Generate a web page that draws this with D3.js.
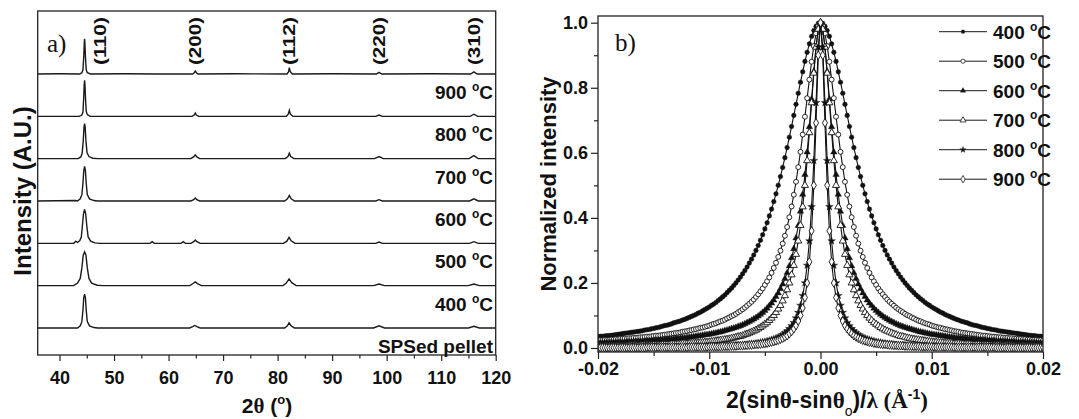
<!DOCTYPE html>
<html>
<head>
<meta charset="utf-8">
<script src="https://cdn.jsdelivr.net/npm/d3@7"></script>
<style>
body { margin: 0; background: #fff; }
svg text { font-family: "Liberation Sans", Arial, sans-serif; font-weight: bold; fill: #111; }
.axis path { display: none; }
.axis line { stroke: #222; stroke-width: 1.2; }
.serif { font-family: "Liberation Serif", "Times New Roman", serif; }
</style>
</head>
<body>
<div id="chart"></div>
<script>
// ---- panel a: XRD patterns ----
var xrdTicks = [40, 50, 60, 70, 80, 90, 100, 110, 120];
var xrdMinor = [45, 55, 65, 75, 85, 95, 105, 115];
var xrdNames = ["900 °C", "800 °C", "700 °C", "600 °C", "500 °C", "400 °C", "SPSed pellet"];
var xrdOffsets = [6, 5, 4, 3, 2, 1, 0];
var hklLabels = ["(110)", "(200)", "(112)", "(220)", "(310)"];
var hklPos = [47.4, 64.9, 82.2, 98.6, 116.0];

var xrd900 = [[36,0],[40,0.005],[43.7,0],[44.1,0.03],[44.3,0.1],[44.45,0.42],[44.55,0.75],[44.6,0.83],[44.65,0.75],[44.75,0.42],[44.9,0.1],[45.1,0.03],[45.7,0],[52,0.005],[58,0],[64.4,0],[64.7,0.03],[64.9,0.07],[65.1,0.03],[65.4,0],[72,0.005],[81.7,0],[82.0,0.05],[82.15,0.15],[82.3,0.06],[82.7,0],[90,0.005],[98.1,0],[98.6,0.04],[99.1,0],[108,0.005],[115.4,0],[116.0,0.05],[116.6,0],[120,0]];
var xrd800 = [[36,0],[43.6,0],[44.1,0.03],[44.3,0.1],[44.43,0.42],[44.53,0.75],[44.6,0.85],[44.67,0.75],[44.77,0.42],[44.9,0.12],[45.1,0.04],[45.6,0],[64.3,0],[64.7,0.03],[64.9,0.08],[65.1,0.03],[65.5,0],[81.6,0],[81.95,0.05],[82.15,0.14],[82.35,0.05],[82.8,0],[98.0,0],[98.6,0.03],[99.2,0],[115.3,0],[116.0,0.05],[116.7,0],[120,0]];
var xrd700 = [[36,0],[43.4,0],[43.9,0.04],[44.15,0.12],[44.35,0.42],[44.5,0.75],[44.6,0.83],[44.7,0.75],[44.85,0.42],[45.05,0.14],[45.4,0.05],[46.1,0.01],[47,0],[64.1,0],[64.6,0.04],[64.9,0.09],[65.2,0.04],[65.7,0],[81.4,0],[81.9,0.05],[82.15,0.13],[82.4,0.05],[83.0,0],[97.8,0],[98.6,0.05],[99.4,0],[115.1,0],[116.0,0.07],[116.8,0],[120,0]];
var xrd600 = [[36,0],[42.9,0.01],[43.3,0],[43.8,0.05],[44.1,0.15],[44.3,0.42],[44.45,0.72],[44.6,0.82],[44.75,0.72],[44.9,0.42],[45.1,0.15],[45.5,0.05],[46.3,0.01],[47,0],[64.1,0],[64.6,0.03],[64.9,0.07],[65.2,0.03],[65.7,0],[81.3,0],[81.8,0.05],[82.15,0.13],[82.5,0.05],[83.1,0],[98.0,0],[98.6,0.03],[99.2,0],[115.2,0],[116.0,0.05],[116.8,0],[120,0]];
var xrd500 = [[36,0],[42.6,0],[43.0,0.05],[43.3,0.02],[43.7,0.06],[44.0,0.15],[44.2,0.42],[44.4,0.7],[44.6,0.8],[44.8,0.7],[45.0,0.42],[45.25,0.15],[45.7,0.05],[46.5,0.01],[47.5,0],[56.6,0],[57.0,0.04],[57.4,0],[62.3,0],[62.7,0.04],[63.1,0],[64.1,0],[64.6,0.04],[64.9,0.08],[65.2,0.04],[65.8,0],[81.1,0],[81.7,0.05],[82.1,0.14],[82.5,0.06],[83.2,0],[98.0,0],[98.6,0.03],[99.2,0],[115.2,0],[116.0,0.04],[116.8,0],[120,0]];
var xrd400 = [[36,0],[42.6,0],[43.3,0.06],[43.8,0.17],[44.1,0.42],[44.35,0.72],[44.6,0.8],[44.85,0.72],[45.1,0.42],[45.4,0.17],[45.9,0.06],[46.9,0.01],[48,0],[63.9,0],[64.5,0.05],[64.9,0.09],[65.3,0.05],[66.0,0],[81.0,0],[81.6,0.06],[82.1,0.16],[82.6,0.07],[83.4,0],[97.6,0],[98.6,0.04],[99.6,0],[115.0,0],[116.0,0.04],[117.0,0],[120,0]];
var xrdSPS = [[36,0],[43.3,0],[43.8,0.05],[44.1,0.15],[44.3,0.42],[44.45,0.72],[44.6,0.8],[44.75,0.72],[44.9,0.42],[45.1,0.15],[45.5,0.05],[46.3,0.01],[47,0],[63.9,0],[64.4,0.03],[64.8,0.06],[65.2,0.03],[65.8,0],[81.3,0],[81.8,0.05],[82.1,0.12],[82.5,0.05],[83.1,0],[97.6,0],[98.6,0.05],[99.6,0],[115.0,0],[116.0,0.04],[117.0,0],[120,0]];
var xrdTraces = [xrd900, xrd800, xrd700, xrd600, xrd500, xrd400, xrdSPS];

// ---- panel b: normalized (110) profiles ----
var qTicks = [-0.02, -0.01, 0, 0.01, 0.02];
var qMinor = [-0.015, -0.005, 0.005, 0.015];
var nTicks = [0, 0.2, 0.4, 0.6, 0.8, 1.0];
var nMinor = [0.1, 0.3, 0.5, 0.7, 0.9];
var profNames = ["400 °C", "500 °C", "600 °C", "700 °C", "800 °C", "900 °C"];

var qGrid = [
  -0.02,-0.0198,-0.0196,-0.0194,-0.0192,-0.019,-0.0188,-0.0186,-0.0184,-0.0182,
  -0.018,-0.0178,-0.0176,-0.0174,-0.0172,-0.017,-0.0168,-0.0166,-0.0164,-0.0162,
  -0.016,-0.0158,-0.0156,-0.0154,-0.0152,-0.015,-0.0148,-0.0146,-0.0144,-0.0142,
  -0.014,-0.0138,-0.0136,-0.0134,-0.0132,-0.013,-0.0128,-0.0126,-0.0124,-0.0122,
  -0.012,-0.0118,-0.0116,-0.0114,-0.0112,-0.011,-0.0108,-0.0106,-0.0104,-0.0102,
  -0.01,-0.0098,-0.0096,-0.0094,-0.0092,-0.009,-0.0088,-0.0086,-0.0084,-0.0082,
  -0.008,-0.0078,-0.0076,-0.0074,-0.0072,-0.007,-0.0068,-0.0066,-0.0064,-0.0062,
  -0.006,-0.0058,-0.0056,-0.0054,-0.0052,-0.005,-0.0048,-0.0046,-0.0044,-0.0042,
  -0.004,-0.0038,-0.0036,-0.0034,-0.0032,-0.003,-0.0028,-0.0026,-0.0024,-0.0022,
  -0.002,-0.0018,-0.0016,-0.0014,-0.0012,-0.001,-0.0008,-0.0006,-0.0004,-0.0002,
  0,
  0.0002,0.0004,0.0006,0.0008,0.001,0.0012,0.0014,0.0016,0.0018,0.002,
  0.0022,0.0024,0.0026,0.0028,0.003,0.0032,0.0034,0.0036,0.0038,0.004,
  0.0042,0.0044,0.0046,0.0048,0.005,0.0052,0.0054,0.0056,0.0058,0.006,
  0.0062,0.0064,0.0066,0.0068,0.007,0.0072,0.0074,0.0076,0.0078,0.008,
  0.0082,0.0084,0.0086,0.0088,0.009,0.0092,0.0094,0.0096,0.0098,0.01,
  0.0102,0.0104,0.0106,0.0108,0.011,0.0112,0.0114,0.0116,0.0118,0.012,
  0.0122,0.0124,0.0126,0.0128,0.013,0.0132,0.0134,0.0136,0.0138,0.014,
  0.0142,0.0144,0.0146,0.0148,0.015,0.0152,0.0154,0.0156,0.0158,0.016,
  0.0162,0.0164,0.0166,0.0168,0.017,0.0172,0.0174,0.0176,0.0178,0.018,
  0.0182,0.0184,0.0186,0.0188,0.019,0.0192,0.0194,0.0196,0.0198,0.02];

var p400 = [
  .035,.036,.036,.037,.038,.038,.039,.040,.041,.042,
  .043,.044,.045,.046,.047,.048,.049,.050,.051,.052,
  .053,.055,.056,.057,.059,.060,.062,.063,.065,.067,
  .069,.070,.072,.074,.077,.079,.081,.083,.086,.088,
  .091,.094,.097,.100,.103,.107,.110,.114,.118,.122,
  .126,.131,.135,.140,.146,.151,.157,.163,.170,.177,
  .184,.192,.200,.209,.218,.228,.238,.249,.261,.273,
  .286,.300,.315,.331,.348,.366,.385,.406,.427,.450,
  .474,.5,.527,.555,.585,.616,.648,.681,.715,.749,
  .783,.817,.849,.881,.909,.935,.958,.976,.989,.997,
  1,
  .997,.989,.976,.958,.935,.909,.881,.849,.817,.783,
  .749,.715,.681,.648,.616,.585,.555,.527,.5,.474,
  .450,.427,.406,.385,.366,.348,.331,.315,.300,.286,
  .273,.261,.249,.238,.228,.218,.209,.200,.192,.184,
  .177,.170,.163,.157,.151,.146,.140,.135,.131,.126,
  .122,.118,.114,.110,.107,.103,.100,.097,.094,.091,
  .088,.086,.083,.081,.079,.077,.074,.072,.070,.069,
  .067,.065,.063,.062,.060,.059,.057,.056,.055,.053,
  .052,.051,.050,.049,.048,.047,.046,.045,.044,.043,
  .042,.041,.040,.039,.038,.038,.037,.036,.036,.035];
var p500 = [
  .023,.024,.024,.025,.025,.025,.026,.026,.027,.027,
  .028,.028,.029,.029,.030,.030,.031,.031,.032,.033,
  .033,.034,.035,.035,.036,.037,.038,.038,.039,.040,
  .041,.042,.043,.044,.045,.046,.047,.048,.050,.051,
  .052,.054,.055,.057,.058,.060,.062,.063,.065,.067,
  .069,.072,.074,.076,.079,.082,.084,.087,.091,.094,
  .098,.101,.105,.110,.114,.119,.124,.130,.136,.142,
  .149,.157,.165,.174,.183,.194,.205,.217,.231,.246,
  .262,.280,.299,.321,.345,.372,.402,.435,.471,.511,
  .556,.603,.656,.711,.768,.825,.880,.928,.967,.991,
  1,
  .991,.967,.928,.880,.825,.768,.711,.656,.603,.556,
  .511,.471,.435,.402,.372,.345,.321,.299,.280,.262,
  .246,.231,.217,.205,.194,.183,.174,.165,.157,.149,
  .142,.136,.130,.124,.119,.114,.110,.105,.101,.098,
  .094,.091,.087,.084,.082,.079,.076,.074,.072,.069,
  .067,.065,.063,.062,.060,.058,.057,.055,.054,.052,
  .051,.050,.048,.047,.046,.045,.044,.043,.042,.041,
  .040,.039,.038,.038,.037,.036,.035,.035,.034,.033,
  .033,.032,.031,.031,.030,.030,.029,.029,.028,.028,
  .027,.027,.026,.026,.025,.025,.025,.024,.024,.023];
var p600 = [
  .015,.015,.016,.016,.016,.016,.017,.017,.017,.017,
  .018,.018,.018,.019,.019,.019,.020,.020,.020,.021,
  .021,.021,.022,.022,.023,.023,.024,.024,.025,.025,
  .026,.026,.027,.027,.028,.029,.029,.030,.031,.031,
  .032,.033,.034,.035,.036,.037,.038,.039,.040,.041,
  .042,.043,.045,.046,.048,.049,.051,.053,.055,.057,
  .059,.061,.063,.066,.068,.071,.074,.078,.081,.085,
  .089,.093,.098,.103,.109,.115,.122,.130,.138,.147,
  .158,.169,.182,.196,.213,.231,.252,.277,.305,.338,
  .376,.420,.472,.533,.602,.680,.765,.850,.926,.980,
  1,
  .980,.926,.850,.765,.680,.602,.533,.472,.420,.376,
  .338,.305,.277,.252,.231,.213,.196,.182,.169,.158,
  .147,.138,.130,.122,.115,.109,.103,.098,.093,.089,
  .085,.081,.078,.074,.071,.068,.066,.063,.061,.059,
  .057,.055,.053,.051,.049,.048,.046,.045,.043,.042,
  .041,.040,.039,.038,.037,.036,.035,.034,.033,.032,
  .031,.031,.030,.029,.029,.028,.027,.027,.026,.026,
  .025,.025,.024,.024,.023,.023,.022,.022,.021,.021,
  .021,.020,.020,.020,.019,.019,.019,.018,.018,.018,
  .017,.017,.017,.017,.016,.016,.016,.016,.015,.015];
var p700 = [
  .005,.005,.005,.005,.005,.005,.006,.006,.006,.006,
  .006,.006,.006,.006,.007,.007,.007,.007,.007,.007,
  .008,.008,.008,.008,.008,.009,.009,.009,.009,.010,
  .010,.010,.010,.011,.011,.011,.012,.012,.013,.013,
  .013,.014,.014,.015,.015,.016,.017,.017,.018,.018,
  .019,.020,.021,.022,.023,.024,.025,.026,.027,.028,
  .030,.031,.033,.035,.036,.038,.041,.043,.046,.049,
  .052,.055,.059,.063,.068,.073,.078,.085,.092,.100,
  .109,.120,.131,.145,.161,.179,.200,.225,.254,.288,
  .329,.377,.434,.5,.576,.662,.754,.845,.925,.980,
  1,
  .980,.925,.845,.754,.662,.576,.5,.434,.377,.329,
  .288,.254,.225,.200,.179,.161,.145,.131,.120,.109,
  .100,.092,.085,.078,.073,.068,.063,.059,.055,.052,
  .049,.046,.043,.041,.038,.036,.035,.033,.031,.030,
  .028,.027,.026,.025,.024,.023,.022,.021,.020,.019,
  .018,.018,.017,.017,.016,.015,.015,.014,.014,.013,
  .013,.013,.012,.012,.011,.011,.011,.010,.010,.010,
  .010,.009,.009,.009,.009,.008,.008,.008,.008,.008,
  .007,.007,.007,.007,.007,.007,.006,.006,.006,.006,
  .006,.006,.006,.006,.005,.005,.005,.005,.005,.005];
var p800 = [
  .001,.001,.001,.001,.001,.001,.001,.001,.002,.002,
  .002,.002,.002,.002,.002,.002,.002,.002,.002,.002,
  .002,.002,.002,.002,.002,.002,.002,.002,.002,.002,
  .002,.003,.003,.003,.003,.003,.003,.003,.003,.003,
  .003,.003,.004,.004,.004,.004,.004,.004,.005,.005,
  .005,.005,.005,.006,.006,.006,.006,.007,.007,.007,
  .008,.008,.008,.009,.009,.010,.010,.011,.012,.013,
  .013,.014,.015,.017,.018,.019,.021,.023,.025,.027,
  .030,.033,.036,.041,.046,.052,.059,.068,.078,.092,
  .109,.131,.161,.200,.254,.329,.434,.576,.754,.925,
  1,
  .925,.754,.576,.434,.329,.254,.200,.161,.131,.109,
  .092,.078,.068,.059,.052,.046,.041,.036,.033,.030,
  .027,.025,.023,.021,.019,.018,.017,.015,.014,.013,
  .013,.012,.011,.010,.010,.009,.009,.008,.008,.008,
  .007,.007,.007,.006,.006,.006,.006,.005,.005,.005,
  .005,.005,.004,.004,.004,.004,.004,.004,.003,.003,
  .003,.003,.003,.003,.003,.003,.003,.003,.003,.002,
  .002,.002,.002,.002,.002,.002,.002,.002,.002,.002,
  .002,.002,.002,.002,.002,.002,.002,.002,.002,.002,
  .002,.002,.001,.001,.001,.001,.001,.001,.001,.001];
var p900 = [
  .001,.001,.001,.001,.001,.001,.001,.001,.001,.001,
  .001,.001,.001,.001,.001,.001,.001,.001,.001,.001,
  .001,.001,.002,.002,.002,.002,.002,.002,.002,.002,
  .002,.002,.002,.002,.002,.002,.002,.002,.002,.002,
  .002,.003,.003,.003,.003,.003,.003,.003,.003,.003,
  .004,.004,.004,.004,.004,.004,.005,.005,.005,.005,
  .006,.006,.006,.007,.007,.007,.008,.008,.009,.009,
  .010,.011,.011,.012,.013,.014,.015,.017,.018,.020,
  .022,.024,.027,.030,.034,.038,.044,.051,.059,.069,
  .083,.100,.123,.155,.200,.265,.360,.5,.692,.900,
  1,
  .900,.692,.5,.360,.265,.200,.155,.123,.100,.083,
  .069,.059,.051,.044,.038,.034,.030,.027,.024,.022,
  .020,.018,.017,.015,.014,.013,.012,.011,.011,.010,
  .009,.009,.008,.008,.007,.007,.007,.006,.006,.006,
  .005,.005,.005,.005,.004,.004,.004,.004,.004,.004,
  .003,.003,.003,.003,.003,.003,.003,.003,.003,.002,
  .002,.002,.002,.002,.002,.002,.002,.002,.002,.002,
  .002,.002,.002,.002,.002,.002,.002,.002,.001,.001,
  .001,.001,.001,.001,.001,.001,.001,.001,.001,.001,
  .001,.001,.001,.001,.001,.001,.001,.001,.001,.001];
var profiles = [p400, p500, p600, p700, p800, p900];

// marker style per series (filled / open)
var symTypes = [d3.symbolCircle, d3.symbolCircle, d3.symbolTriangle, d3.symbolTriangle, d3.symbolStar, d3.symbolDiamond];
var symSizes = [17, 19, 18, 22, 18, 22];
var legSizes = [11, 14, 13, 16, 13, 16];
var symFill = ["#111", "#fff", "#111", "#fff", "#111", "#fff"];

var w = 1079, h = 419;
var svg = d3.select("#chart").append("svg").attr("width", w).attr("height", h);

// superscript "o" in "°C" like the original
function degText(sel, str, small, rise) {
    var parts = str.split("°");
    sel.append("tspan").text(parts[0]);
    if (parts.length > 1) {
        sel.append("tspan").attr("font-size", small).attr("dy", -rise).text("o");
        sel.append("tspan").attr("dy", rise).text(parts[1]);
    }
}
function hyphen(fmt) {
    return function(d) { return fmt(d).replace("\u2212", "-"); };
}

// ================= panel a =================
var xA = d3.scaleLinear().domain([36, 120]).range([37.7, 495.7]);
var yA = d3.scaleLinear().domain([-0.638, 7.488]).range([355, 11]);

var lineA = d3.line()
    .x(function(d) { return xA(d[0]); })
    .y(function(d) { return d[1]; });

xrdTraces.forEach(function(tr, i) {
    var off = xrdOffsets[i];
    svg.append("path")
        .datum(tr.map(function(d) { return [d[0], yA(d[1] + off)]; }))
        .attr("fill", "none")
        .attr("stroke", "#1a1a1a")
        .attr("stroke-width", 1.4)
        .attr("d", lineA);
});

svg.append("rect")
    .attr("x", xA(36)).attr("y", yA(7.488))
    .attr("width", xA(120) - xA(36)).attr("height", yA(-0.638) - yA(7.488))
    .attr("fill", "none").attr("stroke", "#222").attr("stroke-width", 1.3);

svg.append("g").attr("class", "axis")
    .attr("transform", "translate(0," + yA(-0.638) + ")")
    .call(d3.axisBottom(xA).tickValues(xrdTicks).tickSize(6).tickPadding(10))
    .selectAll("text").attr("font-size", 18);
svg.append("g").attr("class", "axis")
    .attr("transform", "translate(0," + yA(-0.638) + ")")
    .call(d3.axisBottom(xA).tickValues(xrdMinor).tickSize(3.5).tickFormat(""));

// temperature labels under each trace
xrdNames.forEach(function(name, i) {
    var t = svg.append("text")
        .attr("x", 493)
        .attr("y", yA(xrdOffsets[i]) + 25)
        .attr("text-anchor", "end")
        .attr("font-size", 19);
    degText(t, name, 12, 8);
});

// hkl labels
hklLabels.forEach(function(lab, i) {
    svg.append("text")
        .attr("transform", "translate(" + xA(hklPos[i]) + "," + (yA(6) - 9) + ") rotate(-90)")
        .attr("dy", "0.36em")
        .attr("font-size", 16)
        .attr("textLength", 48)
        .attr("lengthAdjust", "spacingAndGlyphs")
        .text(lab);
});

svg.append("text").attr("class", "serif")
    .attr("x", 47).attr("y", 52).attr("font-size", 25).style("font-weight", "normal")
    .text("a)");

svg.append("text")
    .attr("transform", "translate(31,191) rotate(-90)")
    .attr("text-anchor", "middle").attr("font-size", 24)
    .text("Intensity (A.U.)");

var tA = svg.append("text").attr("x", 267).attr("y", 413)
    .attr("text-anchor", "middle").attr("font-size", 21);
tA.append("tspan").text("2");
tA.append("tspan").attr("class", "serif").text("θ");
tA.append("tspan").text(" (");
tA.append("tspan").attr("font-size", 13).attr("dy", -9).text("o");
tA.append("tspan").attr("dy", 9).text(")");

// ================= panel b =================
var xB = d3.scaleLinear().domain([-0.02, 0.02]).range([598, 1043]);
var yB = d3.scaleLinear().domain([-0.0123, 1.0206]).range([352, 16]);

var clip = svg.append("clipPath").attr("id", "clipB");
clip.append("rect").attr("x", 598).attr("y", 16).attr("width", 445).attr("height", 336);

var plotB = svg.append("g").attr("clip-path", "url(#clipB)");

var lineB = d3.line()
    .x(function(d) { return xB(d[0]); })
    .y(function(d) { return yB(d[1]); });

profiles.forEach(function(vals, s) {
    var pts = qGrid.map(function(q, i) { return [q, vals[i]]; });
    var g = plotB.append("g");
    g.append("path").datum(pts)
        .attr("fill", "none").attr("stroke", "#111").attr("stroke-width", 1.1)
        .attr("d", lineB);
    g.selectAll("path.m").data(pts).enter().append("path")
        .attr("class", "m")
        .attr("transform", function(d) { return "translate(" + xB(d[0]) + "," + yB(d[1]) + ")"; })
        .attr("d", d3.symbol().type(symTypes[s]).size(symSizes[s]))
        .attr("fill", symFill[s])
        .attr("stroke", "#111")
        .attr("stroke-width", symFill[s] === "#fff" ? 0.9 : 0.4);
});

svg.append("rect")
    .attr("x", 598).attr("y", 16).attr("width", 445).attr("height", 336)
    .attr("fill", "none").attr("stroke", "#222").attr("stroke-width", 1.3);

svg.append("g").attr("class", "axis")
    .attr("transform", "translate(0,352)")
    .call(d3.axisBottom(xB).tickValues(qTicks).tickSize(7).tickPadding(3).tickFormat(hyphen(d3.format(".2f"))))
    .selectAll("text").attr("font-size", 18);
svg.append("g").attr("class", "axis")
    .attr("transform", "translate(0,352)")
    .call(d3.axisBottom(xB).tickValues(qMinor).tickSize(4).tickFormat(""));

svg.append("g").attr("class", "axis")
    .attr("transform", "translate(598,0)")
    .call(d3.axisLeft(yB).tickValues(nTicks).tickSize(7).tickPadding(3).tickFormat(d3.format(".1f")))
    .selectAll("text").attr("font-size", 18);
svg.append("g").attr("class", "axis")
    .attr("transform", "translate(598,0)")
    .call(d3.axisLeft(yB).tickValues(nMinor).tickSize(4).tickFormat(""));

svg.append("text").attr("class", "serif")
    .attr("x", 615).attr("y", 51).attr("font-size", 25).style("font-weight", "normal")
    .text("b)");

// legend
profNames.forEach(function(name, s) {
    var ly = 31.7 + s * 29.5;
    svg.append("line").attr("x1", 939).attr("x2", 987).attr("y1", ly).attr("y2", ly)
        .attr("stroke", "#1a1a1a").attr("stroke-width", 1);
    svg.append("path")
        .attr("transform", "translate(963," + ly + ")")
        .attr("d", d3.symbol().type(symTypes[s]).size(legSizes[s]))
        .attr("fill", symFill[s]).attr("stroke", "#1a1a1a")
        .attr("stroke-width", symFill[s] === "#fff" ? 0.8 : 0.3);
    var t = svg.append("text").attr("x", 993).attr("y", ly + 7).attr("font-size", 19);
    degText(t, name, 12, 8);
});

svg.append("text")
    .attr("transform", "translate(556,184) rotate(-90)")
    .attr("text-anchor", "middle").attr("font-size", 22)
    .text("Normalized intensity");

var tB = svg.append("text").attr("x", 827).attr("y", 408)
    .attr("text-anchor", "middle").attr("font-size", 23);
tB.append("tspan").text("2(sin");
tB.append("tspan").attr("class", "serif").text("θ");
tB.append("tspan").text("-sin");
tB.append("tspan").attr("class", "serif").text("θ");
tB.append("tspan").attr("font-size", 14).attr("dy", 8).style("font-weight", "normal").text("o");
tB.append("tspan").attr("dy", -8).text(")/");
tB.append("tspan").attr("class", "serif").text("λ (Å");
tB.append("tspan").attr("font-size", 14).attr("dy", -9).text("-1");
tB.append("tspan").attr("class", "serif").attr("dy", 9).text(")");
</script>
</body>
</html>
